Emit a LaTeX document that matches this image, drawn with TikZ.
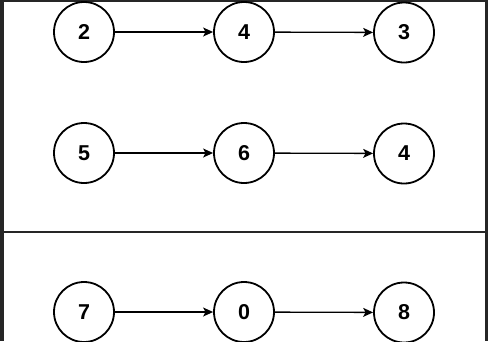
\documentclass[tikz,border=0pt]{standalone}
\usepackage{fontspec}
\setmainfont{Liberation Sans}
\usetikzlibrary{arrows.meta}
\begin{document}
\begin{tikzpicture}[x=1pt,y=-1pt,
  num/.style={circle,draw=black,line width=1.8pt,minimum size=60pt,inner sep=0pt,font=\bfseries\fontsize{21.5}{21.5}\selectfont},
  link/.style={line width=1.3pt,-{Stealth[length=10pt,width=9pt,inset=2.5pt]}}]
\useasboundingbox (0,0) rectangle (488,341);
\fill[black!85] (0,0) rectangle (488,341);
\fill[white] (4,1.5) rectangle (485,341);
\node[num] (a1) at (84,32) {2};
\node[num] (a2) at (244,32) {4};
\node[num] (a3) at (404,32.5) {3};
\node[num] (b1) at (84,153) {5};
\node[num] (b2) at (244,153) {6};
\node[num] (b3) at (404,153.5) {4};
\node[num] (c1) at (84,312) {7};
\node[num] (c2) at (244,312) {0};
\node[num] (c3) at (404,312.5) {8};
\draw[link] (a1) -- (a2);
\draw[link] (a2) -- (a3);
\draw[link] (b1) -- (b2);
\draw[link] (b2) -- (b3);
\draw[link] (c1) -- (c2);
\draw[link] (c2) -- (c3);
\coordinate (sl) at (4,232);
\coordinate (sr) at (485,232);
\draw[line width=1.6pt,black!85] (sl) -- (sr);
\end{tikzpicture}
\end{document}
